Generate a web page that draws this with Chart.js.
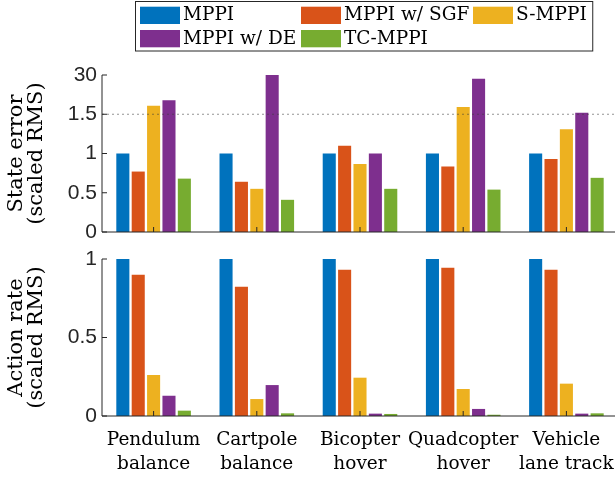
<!DOCTYPE html>
<html>
<head>
<meta charset="utf-8">
<script src="https://cdn.jsdelivr.net/npm/chart.js@4.4.1/dist/chart.umd.min.js"></script>
<style>
  html, body { margin: 0; padding: 0; background: #fff; overflow: hidden; }
  canvas { position: absolute; left: 0; }
  #stateChart { top: 0; }
  #actionChart { top: 245px; }
</style>
</head>
<body>
<canvas id="stateChart" width="620" height="245"></canvas>
<canvas id="actionChart" width="620" height="234"></canvas>
<script>
/* global Chart */

// ---- data ----
const categories = [
   ["Pendulum", "balance"],
   ["Cartpole", "balance"],
   ["Bicopter", "hover"],
   ["Quadcopter", "hover"],
   ["Vehicle", "lane track"],
];
const seriesNames = ["MPPI", "MPPI w/ SGF", "S-MPPI", "MPPI w/ DE", "TC-MPPI"];

// state error (scaled RMS), axis is broken above 1.5
const mppiState = [1, 1, 1, 1, 1];
const sgfState = [0.77, 0.64, 1.1, 0.835, 0.93];
const smppiState = [7.7, 0.55, 0.865, 6.8, 1.31];
const deState = [11.7, 30, 1.0, 27.3, 2.66];
const tcState = [0.68, 0.41, 0.55, 0.54, 0.69];

// action rate (scaled RMS)
const mppiAction = [1, 1, 1, 1, 1];
const sgfAction = [0.9, 0.824, 0.932, 0.945, 0.932];
const smppiAction = [0.261, 0.108, 0.244, 0.172, 0.206];
const deAction = [0.129, 0.197, 0.015, 0.045, 0.015];
const tcAction = [0.034, 0.017, 0.013, 0.008, 0.017];

const stateTickValues = [0, 0.5, 1, 1.5, 30];
const stateTickLabels = ["0", "0.5", "1", "1.5", "30"];
const actionTickValues = [0, 0.5, 1];
const actionTickLabels = ["0", "0.5", "1"];

const BREAK_AT = 1.5;
const BREAK_TOP = 30;

// ---- styles ----
const colors = ["#0072BD", "#D95319", "#EDB120", "#7E2F8E", "#77AC30"];
const axisColor = "#262626";
const serif = '"DejaVu Serif", serif';
const sans = '"Liberation Sans", Arial, sans-serif';

// values above the break are squeezed into the top half-unit of the axis
function toStateAxis(v) {
   if (v <= BREAK_AT) return v;
   return BREAK_AT + ((v - BREAK_AT) / (BREAK_TOP - BREAK_AT)) * 0.5;
}

function makeDatasets(series, transform) {
   return seriesNames.map((name, i) => ({
      label: name,
      data: series[i].map(transform),
      backgroundColor: colors[i],
      borderWidth: 0,
      categoryPercentage: 0.745,
      barPercentage: 0.85,
   }));
}

const axisDecor = {
   id: "axisDecor",
   afterDatasetsDraw(chart, args, opts) {
      const { ctx, chartArea, scales } = chart;
      const { left, right, top, bottom } = chartArea;
      ctx.save();

      if (opts.breakValue !== undefined) {
         const py = scales.y.getPixelForValue(opts.breakValue);
         ctx.setLineDash([2, 3]);
         ctx.strokeStyle = "rgba(60, 60, 60, 0.55)";
         ctx.lineWidth = 1;
         ctx.beginPath();
         ctx.moveTo(left, py);
         ctx.lineTo(right + 5, py);
         ctx.stroke();
         ctx.setLineDash([]);
      }

      ctx.strokeStyle = axisColor;
      ctx.lineWidth = 1;
      ctx.beginPath();
      ctx.moveTo(left, top);
      ctx.lineTo(left, bottom);
      ctx.lineTo(right + 5, bottom);
      scales.y.ticks.forEach((t) => {
         const py = scales.y.getPixelForValue(t.value);
         ctx.moveTo(left, py);
         ctx.lineTo(left + 5, py);
      });
      scales.x.ticks.forEach((t, i) => {
         const px = scales.x.getPixelForTick(i);
         ctx.moveTo(px, bottom);
         ctx.lineTo(px, bottom - 5);
      });
      ctx.stroke();
      ctx.restore();
   },
};

const gridLegend = {
   id: "gridLegend",
   afterDraw(chart, args, opts) {
      if (!opts.show) return;
      const { ctx } = chart;
      const colX = [140, 301, 473];
      const rowY = [6.7, 30];
      ctx.save();
      ctx.font = "18.5px " + serif;
      ctx.textBaseline = "alphabetic";
      ctx.textAlign = "left";
      let maxRight = 0;
      chart.data.datasets.forEach((ds, i) => {
         const x = colX[i % 3];
         const y = rowY[Math.floor(i / 3)];
         ctx.fillStyle = ds.backgroundColor;
         ctx.fillRect(x, y, 40, 17.3);
         ctx.fillStyle = "#000";
         ctx.fillText(ds.label, x + 43, y + 13.5);
         maxRight = Math.max(maxRight, x + 43 + ctx.measureText(ds.label).width);
      });
      ctx.strokeStyle = axisColor;
      ctx.lineWidth = 1;
      ctx.strokeRect(135.5, 1.5, maxRight + 6 - 135.5, 49.5);
      ctx.restore();
   },
};

function yAxis(tickValues, tickLabels, transform, titleLines) {
   return {
      min: transform(tickValues[0]),
      max: transform(tickValues[tickValues.length - 1]),
      grid: { display: false, drawTicks: false },
      border: { display: false },
      afterBuildTicks(scale) {
         scale.ticks = tickValues.map((v) => ({ value: transform(v) }));
      },
      ticks: {
         padding: 5,
         color: axisColor,
         font: { family: sans, size: 21 },
         callback: (value, index) => tickLabels[index],
      },
      title: {
         display: true,
         text: titleLines,
         color: "#000",
         font: { family: serif, size: 21, lineHeight: 0.98 },
         padding: { top: 6, bottom: 0 },
      },
      afterFit(scale) {
         scale.width = 102;
         scale.paddingTop = 0;
         scale.paddingBottom = 0;
      },
   };
}

const stateChart = new Chart(document.getElementById("stateChart"), {
   type: "bar",
   data: {
      labels: categories,
      datasets: makeDatasets(
         [mppiState, sgfState, smppiState, deState, tcState],
         toStateAxis
      ),
   },
   plugins: [axisDecor, gridLegend],
   options: {
      responsive: false,
      animation: false,
      devicePixelRatio: 1,
      layout: { padding: { top: 75, bottom: 13, left: 0, right: 2 } },
      plugins: {
         legend: { display: false },
         tooltip: { enabled: false },
         axisDecor: { breakValue: toStateAxis(BREAK_AT) },
         gridLegend: { show: true },
      },
      scales: {
         x: {
            offset: true,
            grid: { display: false, drawTicks: false },
            border: { display: false },
            ticks: { display: false },
            afterFit(scale) {
               scale.height = 0;
               scale.paddingLeft = 0;
               scale.paddingRight = 0;
            },
         },
         y: yAxis(stateTickValues, stateTickLabels, toStateAxis, [
            "State error",
            "(scaled RMS)",
         ]),
      },
   },
});

const actionChart = new Chart(document.getElementById("actionChart"), {
   type: "bar",
   data: {
      labels: categories,
      datasets: makeDatasets(
         [mppiAction, sgfAction, smppiAction, deAction, tcAction],
         (v) => v
      ),
   },
   plugins: [axisDecor, gridLegend],
   options: {
      responsive: false,
      animation: false,
      devicePixelRatio: 1,
      layout: { padding: { top: 14, bottom: 0, left: 0, right: 2 } },
      plugins: {
         legend: { display: false },
         tooltip: { enabled: false },
         axisDecor: {},
         gridLegend: { show: false },
      },
      scales: {
         x: {
            offset: true,
            grid: { display: false, drawTicks: false },
            border: { display: false },
            ticks: {
               autoSkip: false,
               maxRotation: 0,
               minRotation: 0,
               padding: 13,
               color: "#000",
               font: { family: serif, size: 18.5, lineHeight: 1.25 },
            },
            afterFit(scale) {
               scale.height = 63;
               scale.paddingLeft = 0;
               scale.paddingRight = 0;
            },
         },
         y: yAxis(actionTickValues, actionTickLabels, (v) => v, [
            "Action rate",
            "(scaled RMS)",
         ]),
      },
   },
});
</script>
</body>
</html>
